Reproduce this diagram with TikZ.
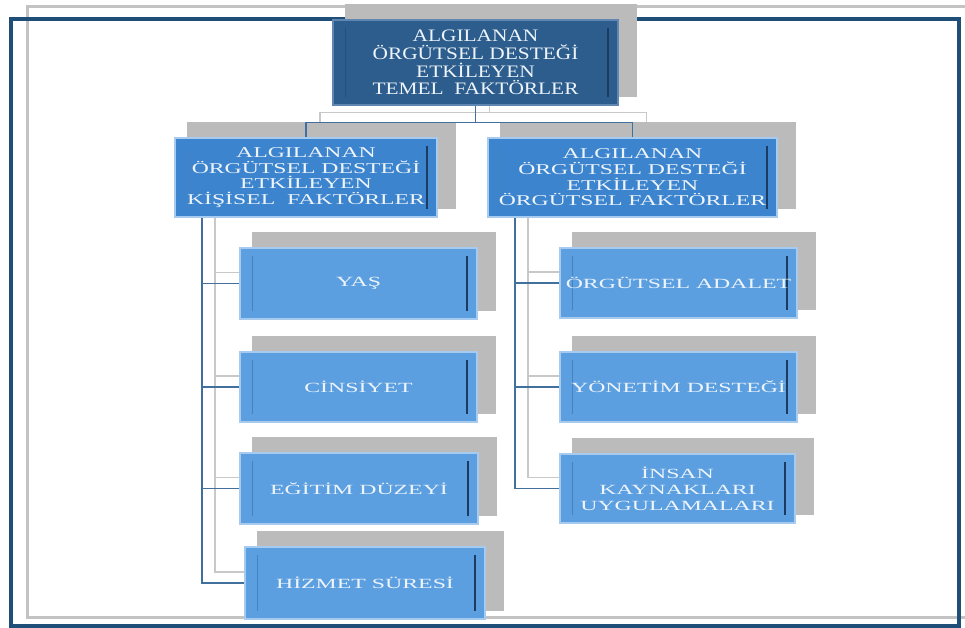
\documentclass[tikz,border=0pt]{standalone}
\usepackage{fontspec}
\setmainfont{Liberation Serif}
\newfontfamily\topfont[FakeStretch=1.22]{Liberation Serif}
\newfontfamily\midfont[FakeStretch=1.58]{Liberation Serif}
\newfontfamily\leaffont[FakeStretch=1.7]{Liberation Serif}
\usetikzlibrary{calc}

\definecolor{frameblue}{HTML}{1F4E79}
\definecolor{framegray}{HTML}{C3C3C3}
\definecolor{shadowgray}{HTML}{BBBBBB}
\definecolor{topfill}{HTML}{2C5D8C}
\definecolor{topedge}{HTML}{5F87B2}
\definecolor{midfill}{HTML}{3C84CE}
\definecolor{leaffill}{HTML}{5C9FE0}
\definecolor{boxedge}{HTML}{A6CBEF}
\definecolor{bevelnavy}{HTML}{1B3B60}
\definecolor{bevelleft}{HTML}{4682BE}
\definecolor{topbevel}{HTML}{24507A}
\definecolor{textlight}{HTML}{EEF4FB}
\definecolor{connblue}{HTML}{41709F}
\definecolor{conngray}{HTML}{C8C8C8}

\pgfdeclarelayer{frame}
\pgfdeclarelayer{shade}
\pgfdeclarelayer{wires}
\pgfsetlayers{frame,shade,wires,main}

\tikzset{
  boxbase/.style={rectangle, inner sep=0pt, align=center, text=textlight, line width=1.5pt},
  bevel/.style 2 args={path picture={
      \draw[#1, line width=1pt]
        ([xshift=12pt,yshift=-8pt]path picture bounding box.north west) --
        ([xshift=12pt,yshift=8pt]path picture bounding box.south west);
      \draw[#2, line width=1.8pt]
        ([xshift=-10pt,yshift=-8pt]path picture bounding box.north east) --
        ([xshift=-10pt,yshift=8pt]path picture bounding box.south east);}},
  topbox/.style={boxbase, fill=topfill, draw=topedge, bevel={topbevel}{bevelnavy},
    font=\topfont\fontsize{17.5}{17.8}\selectfont},
  midbox/.style={boxbase, fill=midfill, draw=boxedge, bevel={bevelleft}{bevelnavy},
    font=\midfont\fontsize{15}{15.7}\selectfont},
  leafbox/.style={boxbase, fill=leaffill, draw=boxedge, bevel={bevelleft}{bevelnavy},
    font=\leaffont\fontsize{14}{16}\selectfont},
  conn/.style={connblue, line width=1.3pt},
  connshade/.style={conngray, line width=1.3pt},
  boxshadow/.style={fill=shadowgray},
}

\begin{document}
\begin{tikzpicture}[x=1pt,y=-1pt]
\useasboundingbox (0,0) rectangle (965,628);

% page and the two frames
\begin{pgfonlayer}{frame}
  \fill[white] (0,0) rectangle (965,628);
  \draw[framegray, line width=3pt] (27,7) rectangle (985,617);
  \draw[frameblue, line width=3.5pt] (11,19) rectangle (959,626);
\end{pgfonlayer}

% boxes
\node[topbox, minimum width=285, minimum height=85] (top) at (475.5,62.5)
  {ALGILANAN\\ÖRGÜTSEL DESTEĞİ\\ETKİLEYEN\\TEMEL\ \ FAKTÖRLER};

\node[midbox, minimum width=262, minimum height=79] (kis) at (306,177.5)
  {ALGILANAN\\ÖRGÜTSEL DESTEĞİ\\ETKİLEYEN\\KİŞİSEL\ \ FAKTÖRLER};
\node[midbox, minimum width=289, minimum height=79] (org) at (632.5,177.5)
  {ALGILANAN\\ÖRGÜTSEL DESTEĞİ\\ETKİLEYEN\\ÖRGÜTSEL FAKTÖRLER};

\node[leafbox, minimum width=237, minimum height=71] (yas)  at (358.5,283.5) {YAŞ};
\node[leafbox, minimum width=237, minimum height=70] (cins) at (358.5,387)   {CİNSİYET};
\node[leafbox, minimum width=238, minimum height=71] (egit) at (359,488.5)   {EĞİTİM DÜZEYİ};
\node[leafbox, minimum width=240, minimum height=72] (hiz)  at (365,583)     {HİZMET SÜRESİ};

\node[leafbox, minimum width=237, minimum height=70] (adal)  at (678.5,283)   {ÖRGÜTSEL ADALET};
\node[leafbox, minimum width=237, minimum height=70] (yon)   at (678.5,387)   {YÖNETİM DESTEĞİ};
\node[leafbox, minimum width=235, minimum height=69] (insan) at (677.5,488.5) {İNSAN\\KAYNAKLARI\\UYGULAMALARI};

\coordinate (j) at ($(top.south)+(0,17)$);

% grey echo of the connectors, then the box shadows
\begin{pgfonlayer}{shade}
  \begin{scope}[transform canvas={shift={(14,-10)}}]
    \draw[connshade] (top.south) -- (j);
    \draw[connshade] (kis.north) |- (j) -| (org.north);
  \end{scope}
  \begin{scope}[transform canvas={shift={(13,-11)}}]
    \foreach \leaf in {yas,cins,egit,hiz}
      \draw[connshade] ([xshift=-104pt]kis.south) |- (\leaf.west);
    \foreach \leaf in {adal,yon,insan}
      \draw[connshade] ([xshift=-117.5pt]org.south) |- (\leaf.west);
  \end{scope}
  \foreach \n in {top,kis,org,yas,cins,egit,hiz,adal,yon,insan}
    \fill[boxshadow] ($(\n.north west)+(13,-15)$) rectangle ($(\n.south east)+(18,-9)$);
\end{pgfonlayer}

% connectors
\begin{pgfonlayer}{wires}
  \draw[conn] (top.south) -- (j);
  \draw[conn] (kis.north) |- (j) -| (org.north);
  \foreach \leaf in {yas,cins,egit,hiz}
    \draw[conn] ([xshift=-104pt]kis.south) |- (\leaf.west);
  \foreach \leaf in {adal,yon,insan}
    \draw[conn] ([xshift=-117.5pt]org.south) |- (\leaf.west);
\end{pgfonlayer}
\end{tikzpicture}
\end{document}
